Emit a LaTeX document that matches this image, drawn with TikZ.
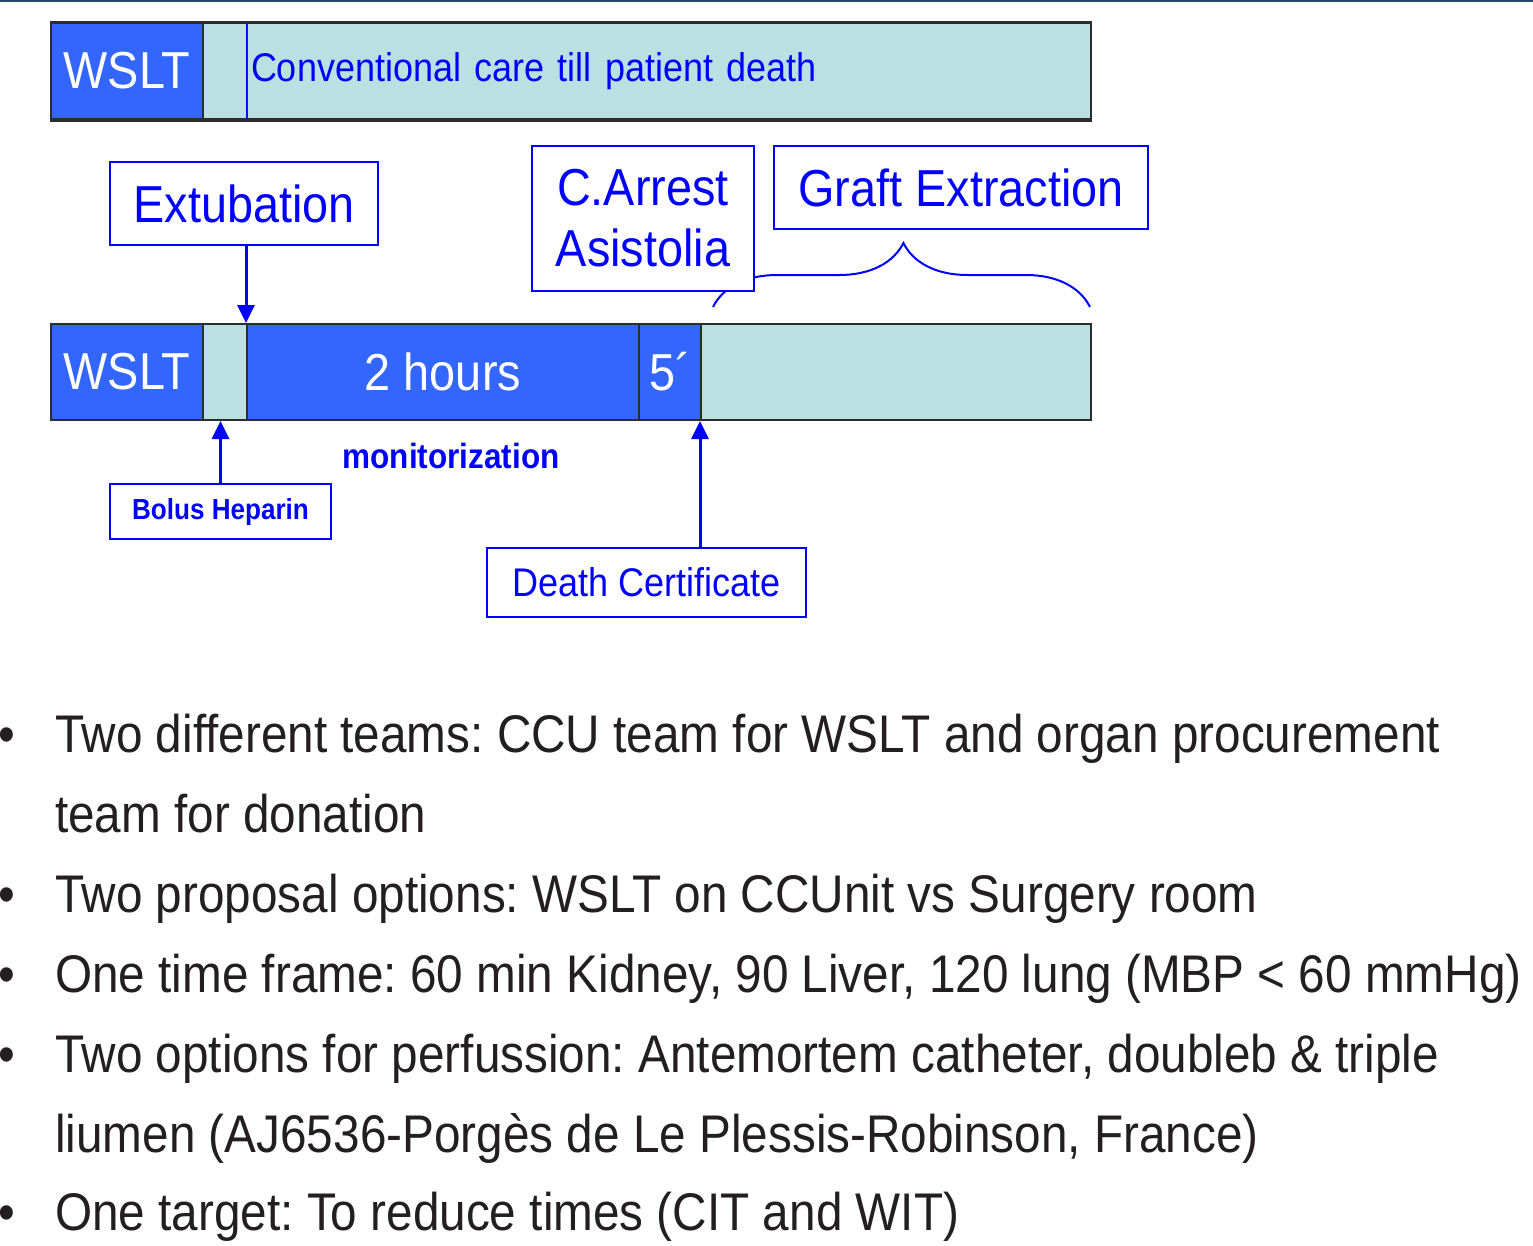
\documentclass[tikz,border=0pt]{standalone}
\usepackage{fontspec}
\setmainfont[FakeStretch=0.9]{Liberation Sans}
\frenchspacing
\usetikzlibrary{positioning}
\usetikzlibrary{arrows.meta}
\usetikzlibrary{decorations.pathreplacing}
\usetikzlibrary{calc}
\definecolor{wsltblue}{RGB}{51,102,255}
\definecolor{waitcyan}{RGB}{186,224,226}
\definecolor{labelblue}{RGB}{0,0,255}
\definecolor{bordergray}{RGB}{45,45,45}
\definecolor{bulletgray}{RGB}{35,31,32}
\definecolor{rulecolor}{RGB}{38,70,98}
\tikzstyle{segment}=[rectangle,draw=bordergray,line width=2pt,minimum height=96pt,inner sep=0pt,anchor=north west]
\tikzstyle{activeseg}=[segment,fill=wsltblue,text=white,font=\fontsize{52}{60}\selectfont]
\tikzstyle{waitseg}=[segment,fill=waitcyan]
\tikzstyle{tag}=[rectangle,draw=labelblue,line width=2pt,fill=white,text=labelblue,inner sep=0pt]
\tikzstyle{bigtag}=[tag,font=\fontsize{52}{61}\selectfont]
\tikzstyle{pointer}=[draw=labelblue,line width=3pt,-{Triangle[width=17pt,length=18pt]}]
\tikzstyle{item}=[anchor=base west,align=left,text=bulletgray,inner sep=0pt,font=\fontsize{53}{80}\selectfont]

\begin{document}
\begin{tikzpicture}[x=1pt,y=-1pt]
  \useasboundingbox (0,0) rectangle (1533,1245);
  \draw[rulecolor,line width=2pt] (0,1) -- (1533,1);

  % first row: without donation
  \node[activeseg,minimum width=152pt] (wsltA) at (50,22) {WSLT};
  \node[waitseg,minimum width=44pt] (gapA) at (202,22) {};
  \node[waitseg,minimum width=844pt,text width=836pt,align=left,text=labelblue,font=\fontsize{40}{48}\selectfont] (care) at (246,22) {Conventional care till patient death};
  \draw[labelblue,line width=1pt] (care.north west) -- (care.south west);
  \draw[bordergray,line width=3pt] (wsltA.north west) -- (care.north east);
  \draw[bordergray,line width=3pt] (wsltA.south west) -- (care.south east);

  % second row: donation after WSLT
  \node[activeseg,minimum width=152pt] (wsltB) at (50,323) {WSLT};
  \node[waitseg,minimum width=44pt] (gapB) at (202,323) {};
  \node[activeseg,minimum width=392pt] (hours) at (246,323) {2 hours};
  \node[activeseg,minimum width=62pt] (five) at (638,323) {5´};
  \node[waitseg,minimum width=390pt] (rest) at (700,323) {};

  \coordinate (braceL) at (713,307);
  \coordinate (braceR) at (1090,307);
  \draw[labelblue,line width=2pt,decorate,decoration={brace,amplitude=64pt,aspect=0.505}] (braceL) -- (braceR);

  \node[bigtag,minimum width=268pt,minimum height=83pt] (extub) at (244,203.5) {Extubation};
  \node[bigtag,minimum width=222pt,minimum height=145pt,align=center] (arrest) at (643,218.5) {C.Arrest\\Asistolia};
  \node[bigtag,minimum width=374pt,minimum height=83pt] (graft) at (961,187.5) {Graft Extraction};
  \node[tag,minimum width=221pt,minimum height=55pt,font=\bfseries\fontsize{29}{34}\selectfont] (bolus) at (220.5,511.5) {Bolus Heparin};
  \node[tag,minimum width=319pt,minimum height=69pt,font=\fontsize{40}{48}\selectfont] (death) at (646.5,582.5) {Death Certificate};
  \node[text=labelblue,font=\bfseries\fontsize{35}{40}\selectfont] (monit) at (451,456) {monitorization};

  \draw[pointer] (extub.south -| hours.north west) -- (hours.north west);
  \draw[pointer] (bolus.north) -- (bolus.north |- gapB.south);
  \draw[pointer] (death.north -| rest.south west) -- (rest.south west);

  % bullet list (\top = first line, \y = last line)
  \foreach \n/\top/\y/\txt in {1/752/832/{Two different teams: CCU team for WSLT and organ procurement\\team for donation},
      2/912/912/{Two proposal options: WSLT on CCUnit vs Surgery room},
      3/992/992/{One time frame: 60 min Kidney, 90 Liver, 120 lung (MBP < 60 mmHg)},
      4/1072/1152/{Two options for perfussion: Antemortem catheter, doubleb \& triple\\liumen (AJ6536-Porgès de Le Plessis-Robinson, France)},
      5/1230/1230/{One target: To reduce times (CIT and WIT)}}
  {
    \node[item] (item\n) at (55,\y) {\txt};
    \node[item] (dot\n) at (-2,\top) {\textbullet};
  }
\end{tikzpicture}
\end{document}
